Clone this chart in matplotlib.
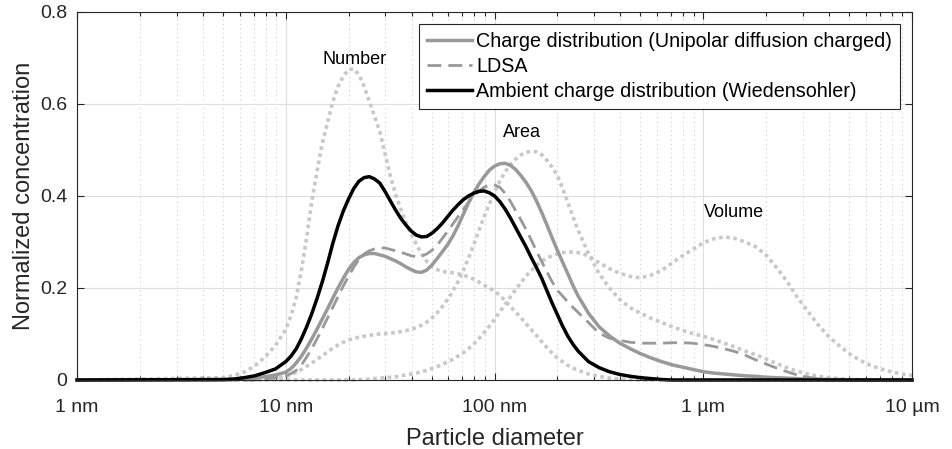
import numpy as np
import matplotlib
matplotlib.use("Agg")
import matplotlib.pyplot as plt
from matplotlib.ticker import FixedLocator, NullLocator, NullFormatter

plt.rcParams['font.family'] = ['Liberation Sans', 'DejaVu Sans']

# diameter grid as log10(nm): coarse at the ends, finer around the peaks,
# plus a 1 nm start point where every curve is zero
log_d = np.concatenate([np.arange(0.70, 0.96, 0.05),
                        np.arange(1.0, 2.401, 0.025),
                        np.arange(2.45, 4.001, 0.05)])
diam_nm = np.concatenate([[1.0], 10 ** log_d])

# values, one per grid point
ambient = [0.001, 0.002, 0.005, 0.009, 0.016, 0.024,
           0.04, 0.052, 0.068, 0.09, 0.116, 0.145, 0.178, 0.214, 0.254, 0.297,
           0.335, 0.367, 0.393, 0.416, 0.432, 0.44, 0.442, 0.437, 0.428, 0.41,
           0.39, 0.37, 0.352, 0.337, 0.324, 0.315, 0.311, 0.312, 0.319, 0.329,
           0.341, 0.355, 0.369, 0.381, 0.392, 0.4, 0.406, 0.41, 0.411, 0.407,
           0.4, 0.388, 0.372, 0.353, 0.332, 0.311, 0.29, 0.267, 0.245, 0.222,
           0.195, 0.168, 0.143, 0.118, 0.096, 0.078, 0.063,
           0.04, 0.027, 0.018, 0.012, 0.008, 0.005, 0.003, 0.001,
           0, 0, 0, 0, 0, 0, 0, 0,
           0, 0, 0, 0, 0, 0, 0, 0,
           0, 0, 0, 0, 0, 0, 0, 0]
charge = [0, 0.001, 0.002, 0.004, 0.007, 0.011,
          0.017, 0.025, 0.037, 0.052, 0.07, 0.09, 0.111, 0.133, 0.155, 0.178,
          0.2, 0.221, 0.24, 0.255, 0.266, 0.272, 0.275, 0.275, 0.272, 0.269,
          0.264, 0.259, 0.253, 0.246, 0.24, 0.235, 0.234, 0.239, 0.25, 0.264,
          0.279, 0.294, 0.313, 0.335, 0.36, 0.385, 0.407, 0.426, 0.442, 0.456,
          0.465, 0.47, 0.471, 0.467, 0.458, 0.445, 0.43, 0.412, 0.39, 0.365,
          0.338, 0.31, 0.283, 0.257, 0.232, 0.206, 0.183,
          0.145, 0.116, 0.096, 0.08, 0.068, 0.057, 0.048, 0.04, 0.033, 0.028,
          0.023, 0.018, 0.015, 0.013, 0.011, 0.009, 0.008, 0.006, 0.005, 0.004,
          0.003, 0.002, 0.002, 0.001, 0.001, 0, 0, 0, 0, 0, 0, 0]
ldsa = [0, 0, 0, 0, 0.002, 0.005,
        0.009, 0.014, 0.021, 0.033, 0.05, 0.069, 0.09, 0.112, 0.135, 0.158,
        0.181, 0.204, 0.225, 0.245, 0.262, 0.274, 0.281, 0.285, 0.287, 0.287,
        0.284, 0.281, 0.278, 0.274, 0.27, 0.268, 0.269, 0.274, 0.282, 0.293,
        0.308, 0.323, 0.339, 0.355, 0.371, 0.386, 0.4, 0.411, 0.419, 0.424,
        0.424, 0.419, 0.406, 0.389, 0.369, 0.349, 0.328, 0.305, 0.281, 0.258,
        0.236, 0.214, 0.195, 0.183, 0.17, 0.158, 0.147,
        0.125, 0.102, 0.091, 0.086, 0.082, 0.08, 0.08, 0.08, 0.081, 0.081,
        0.08, 0.077, 0.073, 0.068, 0.062, 0.054, 0.044, 0.035, 0.026, 0.018,
        0.011, 0.006, 0.003, 0.001, 0, 0, 0, 0, 0, 0, 0, 0]
number = [0.005, 0.01, 0.017, 0.03, 0.05, 0.075,
          0.11, 0.14, 0.18, 0.24, 0.31, 0.39, 0.455, 0.515, 0.56, 0.605,
          0.638, 0.66, 0.675, 0.676, 0.664, 0.638, 0.606, 0.573, 0.54, 0.492,
          0.445, 0.405, 0.372, 0.343, 0.318, 0.295, 0.274, 0.258, 0.247, 0.24,
          0.236, 0.234, 0.233, 0.231, 0.228, 0.224, 0.219, 0.213, 0.206, 0.2,
          0.193, 0.184, 0.173, 0.16, 0.148, 0.136, 0.123, 0.11, 0.097, 0.084,
          0.071, 0.059, 0.048, 0.04, 0.032, 0.026, 0.021,
          0.013, 0.008, 0.004, 0.002, 0.001,
          0, 0, 0, 0, 0, 0, 0, 0, 0,
          0, 0, 0, 0, 0, 0, 0, 0, 0,
          0, 0, 0, 0, 0, 0, 0, 0, 0]
area = [0, 0, 0, 0, 0.002, 0.004,
        0.008, 0.012, 0.017, 0.023, 0.03, 0.037, 0.045, 0.053, 0.061, 0.069,
        0.076, 0.082, 0.087, 0.09, 0.093, 0.095, 0.097, 0.099, 0.1, 0.101,
        0.102, 0.103, 0.105, 0.107, 0.11, 0.114, 0.119, 0.126, 0.135, 0.146,
        0.16, 0.175, 0.193, 0.214, 0.238, 0.265, 0.294, 0.325, 0.355, 0.382,
        0.408, 0.432, 0.452, 0.468, 0.48, 0.489, 0.495, 0.497, 0.496, 0.49,
        0.478, 0.463, 0.445, 0.418, 0.387, 0.356, 0.326,
        0.275, 0.232, 0.2, 0.175, 0.157, 0.145, 0.134, 0.125, 0.116, 0.108,
        0.101, 0.095, 0.088, 0.08, 0.072, 0.063, 0.055, 0.046, 0.036, 0.027,
        0.019, 0.013, 0.008, 0.005, 0.003, 0.002, 0.001, 0, 0, 0, 0, 0]
volume = [0, 0, 0, 0, 0, 0,
          0, 0, 0, 0, 0, 0, 0, 0, 0, 0, 0, 0, 0, 0,
          0.001, 0.001, 0.002, 0.003, 0.004, 0.005, 0.006, 0.007, 0.009, 0.011,
          0.013, 0.015, 0.018, 0.021, 0.025, 0.029, 0.034, 0.039, 0.045, 0.052,
          0.059, 0.068, 0.078, 0.09, 0.103, 0.117, 0.132, 0.148, 0.164, 0.18,
          0.196, 0.211, 0.225, 0.238, 0.249, 0.258, 0.265, 0.27, 0.274, 0.277,
          0.278, 0.278, 0.277,
          0.27, 0.255, 0.242, 0.232, 0.225, 0.222, 0.228, 0.238, 0.254, 0.27,
          0.284, 0.298, 0.307, 0.311, 0.308, 0.3, 0.29, 0.272, 0.245, 0.215,
          0.18, 0.15, 0.12, 0.095, 0.075, 0.057, 0.043, 0.032, 0.024, 0.018,
          0.013, 0.01]

labels = ['Charge distribution (Unipolar diffusion charged)', 'LDSA',
          'Ambient charge distribution (Wiedensohler)']
xtick_pos = [1, 10, 100, 1000, 10000]
xtick_labels = ['1 nm', '10 nm', '100 nm', '1 µm', '10 µm']
ytick_pos = [0, 0.2, 0.4, 0.6, 0.8]
ytick_labels = ['0', '0.2', '0.4', '0.6', '0.8']
# (label, x in nm, y)
moment_labels = [('Number', 21.4, 0.696), ('Area', 135, 0.537), ('Volume', 1410, 0.365)]


def series(v):
    return np.concatenate([[0.0], np.asarray(v, dtype=float)])


fig = plt.figure(figsize=(9.52, 4.49), dpi=100)
ax = fig.add_axes([0.081, 0.1537, 0.877, 0.8196])
ax.set_xscale('log')

dot = dict(color='#c8c8c8', lw=2.6, ls=(0, (1, 1)), clip_on=False)
for v in (number, area, volume):
    ax.plot(diam_nm, series(v), **dot)

h1, = ax.plot(diam_nm, series(charge), color='#999999', lw=2.5,
              solid_joinstyle='round', clip_on=False)
h2, = ax.plot(diam_nm, series(ldsa), color='#999999', lw=2.0, ls=(0, (5, 2.5)),
              clip_on=False)
h3, = ax.plot(diam_nm, series(ambient), color='black', lw=2.5,
              solid_joinstyle='round', clip_on=False)

for txt, x, y in moment_labels:
    ax.text(x, y, txt, ha='center', va='center', fontsize=13, color='black')

ax.set_xlim(1, 10000)
ax.set_ylim(0, 0.8)
ax.xaxis.set_major_locator(FixedLocator(xtick_pos))
ax.set_xticklabels(xtick_labels)
ax.xaxis.set_minor_locator(FixedLocator([m * 10 ** e for e in range(0, 4) for m in range(2, 10)]))
ax.xaxis.set_minor_formatter(NullFormatter())
ax.set_yticks(ytick_pos)
ax.set_yticklabels(ytick_labels)
ax.yaxis.set_minor_locator(NullLocator())

ax.grid(which='major', color='#dedede', lw=0.8, ls='-')
ax.grid(which='minor', axis='x', color='#cfcfcf', lw=0.8, ls=(0, (1, 3)))
ax.set_axisbelow(True)

ax.tick_params(which='both', direction='in', top=True, right=True,
               labelsize=14, labelcolor='#262626', color='#262626', width=0.8)
ax.tick_params(which='major', length=5)
ax.tick_params(which='minor', length=3)
ax.tick_params(axis='x', which='major', pad=14)
ax.tick_params(axis='y', which='major', pad=7)
for s in ax.spines.values():
    s.set_color('#262626')
    s.set_linewidth(0.8)

ax.set_xlabel('Particle diameter', fontsize=17, color='#262626', labelpad=8)
ax.set_ylabel('Normalized concentration', fontsize=17, color='#262626', labelpad=4)

leg = ax.legend([h1, h2, h3], labels, loc='upper right', fontsize=14.2,
                fancybox=False, edgecolor='#262626', framealpha=1,
                handlelength=2.3, handletextpad=0.2, labelspacing=0.32,
                borderpad=0.4, borderaxespad=0.6)
leg.get_frame().set_linewidth(0.8)

fig.savefig('out.png', dpi=100)
